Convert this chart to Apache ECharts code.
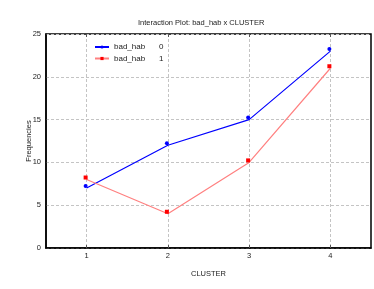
<!DOCTYPE html>
<html>
<head>
<meta charset="utf-8">
<script src="https://cdn.jsdelivr.net/npm/echarts@6/dist/echarts.min.js"></script>
<style>
  html, body { margin: 0; padding: 0; background: #fff; }
  #chart { width: 374px; height: 289px; }
</style>
</head>
<body>
<div id="chart"></div>
<script>
const categories = ['1', '2', '3', '4']
const seriesNames = ['0', '1']
const habZero = [7, 12, 15, 23]
const habOne = [8, 4, 10, 21]

const font = 'Liberation Sans, Arial, sans-serif'
const chart = echarts.init(document.getElementById('chart'))

const gridLine = { show: true, lineStyle: { type: [3, 2], color: '#c4c4c4', width: 1 } }

chart.setOption({
  animation: false,
  textStyle: { fontFamily: font },
  title: {
    text: 'Interaction Plot: bad_hab x CLUSTER',
    left: 133,
    top: 14,
    textStyle: { fontSize: 7.5, fontWeight: 'normal', color: '#222', fontFamily: font }
  },
  legend: {
    orient: 'vertical',
    left: 89,
    top: 38,
    itemWidth: 14,
    itemHeight: 4,
    itemGap: 3.5,
    data: seriesNames,
    formatter: name => '{a|bad_hab}{b|' + name + '}',
    textStyle: {
      fontSize: 8,
      color: '#222',
      rich: {
        a: { width: 45, fontSize: 8, color: '#222', fontFamily: font },
        b: { fontSize: 8, color: '#222', fontFamily: font }
      }
    }
  },
  grid: {
    left: 46, right: 3, top: 34, bottom: 41,
    show: true, borderColor: '#000', borderWidth: 1.5
  },
  xAxis: [{
    type: 'category',
    data: categories,
    boundaryGap: true,
    name: 'CLUSTER',
    nameLocation: 'middle',
    nameGap: 22,
    nameTextStyle: { fontSize: 7.5, color: '#222' },
    axisLine: { lineStyle: { color: '#000', width: 1.5 } },
    axisTick: { show: true, alignWithLabel: true, inside: true, length: 3, lineStyle: { color: '#555' } },
    axisLabel: { fontSize: 7.5, color: '#222', margin: 4 },
    splitLine: Object.assign({ alignWithLabel: true }, gridLine)
  }, {
    type: 'category',
    data: categories,
    position: 'top',
    boundaryGap: true,
    axisLine: { show: false },
    axisTick: { show: true, alignWithLabel: true, inside: true, length: 3, lineStyle: { color: '#555' } },
    axisLabel: { show: false },
    splitLine: { show: false }
  }],
  yAxis: {
    type: 'value',
    min: 0,
    max: 25,
    interval: 5,
    name: 'Frequencies',
    nameLocation: 'middle',
    nameGap: 13,
    nameMoveOverlap: false,
    nameTextStyle: { fontSize: 7.5, color: '#222' },
    axisLine: { show: true, lineStyle: { color: '#000', width: 1.5 } },
    axisTick: { show: false },
    axisLabel: { fontSize: 7.5, color: '#222', margin: 5 },
    splitLine: gridLine
  },
  series: [{
    name: seriesNames[0],
    type: 'line',
    data: habZero,
    symbol: 'circle',
    symbolSize: 4,
    symbolOffset: [-1, -2],
    itemStyle: { color: '#0000ff' },
    lineStyle: { color: '#0000ff', width: 1.2 }
  }, {
    name: seriesNames[1],
    type: 'line',
    data: habOne,
    symbol: 'rect',
    symbolSize: 4,
    symbolOffset: [-1, -2],
    itemStyle: { color: '#ff0000' },
    lineStyle: { color: '#ff8080', width: 1.2 }
  }]
})
</script>
</body>
</html>
